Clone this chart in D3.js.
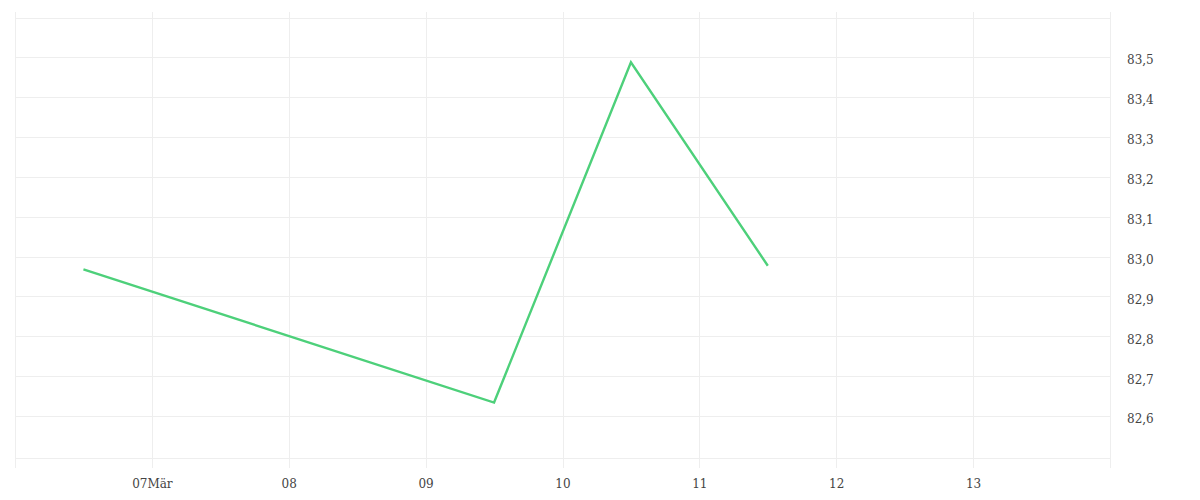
<!DOCTYPE html>
<html>
<head>
<meta charset="utf-8">
<script src="https://cdn.jsdelivr.net/npm/d3@7"></script>
<style>
  body { margin: 0; background: #fff; }
  .grid line { stroke: #eeeeee; stroke-width: 1; shape-rendering: crispEdges; }
  .grid path { display: none; }
  .lbl path, .lbl line { display: none; }
  .lbl text { font-family: "DejaVu Serif", serif; font-size: 12px; fill: #444; }
</style>
</head>
<body>
<div id="chartCtn"></div>
<script>
// data
var dates = [ "2020-03-06T12:00", "2020-03-09T12:00", "2020-03-10T12:00", "2020-03-11T12:00" ];
var values = [ 82.968, 82.634, 83.487, 82.977 ];
var xTickDays = [ "2020-03-07", "2020-03-08", "2020-03-09", "2020-03-10", "2020-03-11", "2020-03-12", "2020-03-13" ];
var xTickLabels = [ "07Mär", "08", "09", "10", "11", "12", "13" ];
var yTicks = [ 82.6, 82.7, 82.8, 82.9, 83.0, 83.1, 83.2, 83.3, 83.4, 83.5 ];
var xDomain = [ "2020-03-06", "2020-03-14" ];
var yDomain = [ 82.495, 83.598 ];

var width = 1200, height = 500;
var plotLeft = 15, plotRight = 1110, plotTop = 18, plotBottom = 458;

var data = dates.map( ( d, i ) => ( { date: new Date( d ), value: values[i] } ) );
var xTicks = xTickDays.map( d => new Date( d + "T00:00" ) );

var xScale = d3.scaleTime()
	.domain( xDomain.map( d => new Date( d + "T00:00" ) ) )
	.range( [ plotLeft, plotRight ] );

var yScale = d3.scaleLinear()
	.domain( yDomain )
	.range( [ plotBottom, plotTop ] );

var svg = d3.select( "#chartCtn" )
	.append( "svg" )
	.attr( "width", width )
	.attr( "height", height );

// horizontal grid
svg.append( "g" )
	.attr( "class", "grid" )
	.attr( "transform", `translate(${plotLeft}, 0)` )
	.call( d3.axisLeft( yScale )
		.tickValues( yTicks.concat( yDomain ) )
		.tickSize( -( plotRight - plotLeft ) )
		.tickFormat( "" ) );

// vertical grid (also the frame edges), runs a bit past the plot
svg.append( "g" )
	.attr( "class", "grid" )
	.attr( "transform", `translate(0, ${plotBottom + 10})` )
	.call( d3.axisBottom( xScale )
		.tickValues( xTicks.concat( xScale.domain() ) )
		.tickSize( -( plotBottom + 10 - ( plotTop - 6 ) ) )
		.tickFormat( "" ) );

// x labels
svg.append( "g" )
	.attr( "class", "lbl" )
	.attr( "transform", `translate(0, ${plotBottom + 10})` )
	.call( d3.axisBottom( xScale )
		.tickValues( xTicks )
		.tickSize( 0 )
		.tickPadding( 11 )
		.tickFormat( ( d, i ) => xTickLabels[i] ) );

// y labels
svg.append( "g" )
	.attr( "class", "lbl" )
	.attr( "transform", `translate(${plotRight}, 0)` )
	.call( d3.axisRight( yScale )
		.tickValues( yTicks )
		.tickSize( 0 )
		.tickPadding( 17 )
		.tickFormat( d => d3.format( ".1f" )( d ).replace( ".", "," ) ) )
	.selectAll( "text" )
	.attr( "y", 3 );

var line = d3.line()
	.x( d => xScale( d.date ) )
	.y( d => yScale( d.value ) );

svg.append( "path" )
	.datum( data )
	.attr( "fill", "none" )
	.attr( "stroke", "#4dd07a" )
	.attr( "stroke-width", 2.4 )
	.attr( "stroke-linejoin", "miter" )
	.attr( "d", line );
</script>
</body>
</html>
